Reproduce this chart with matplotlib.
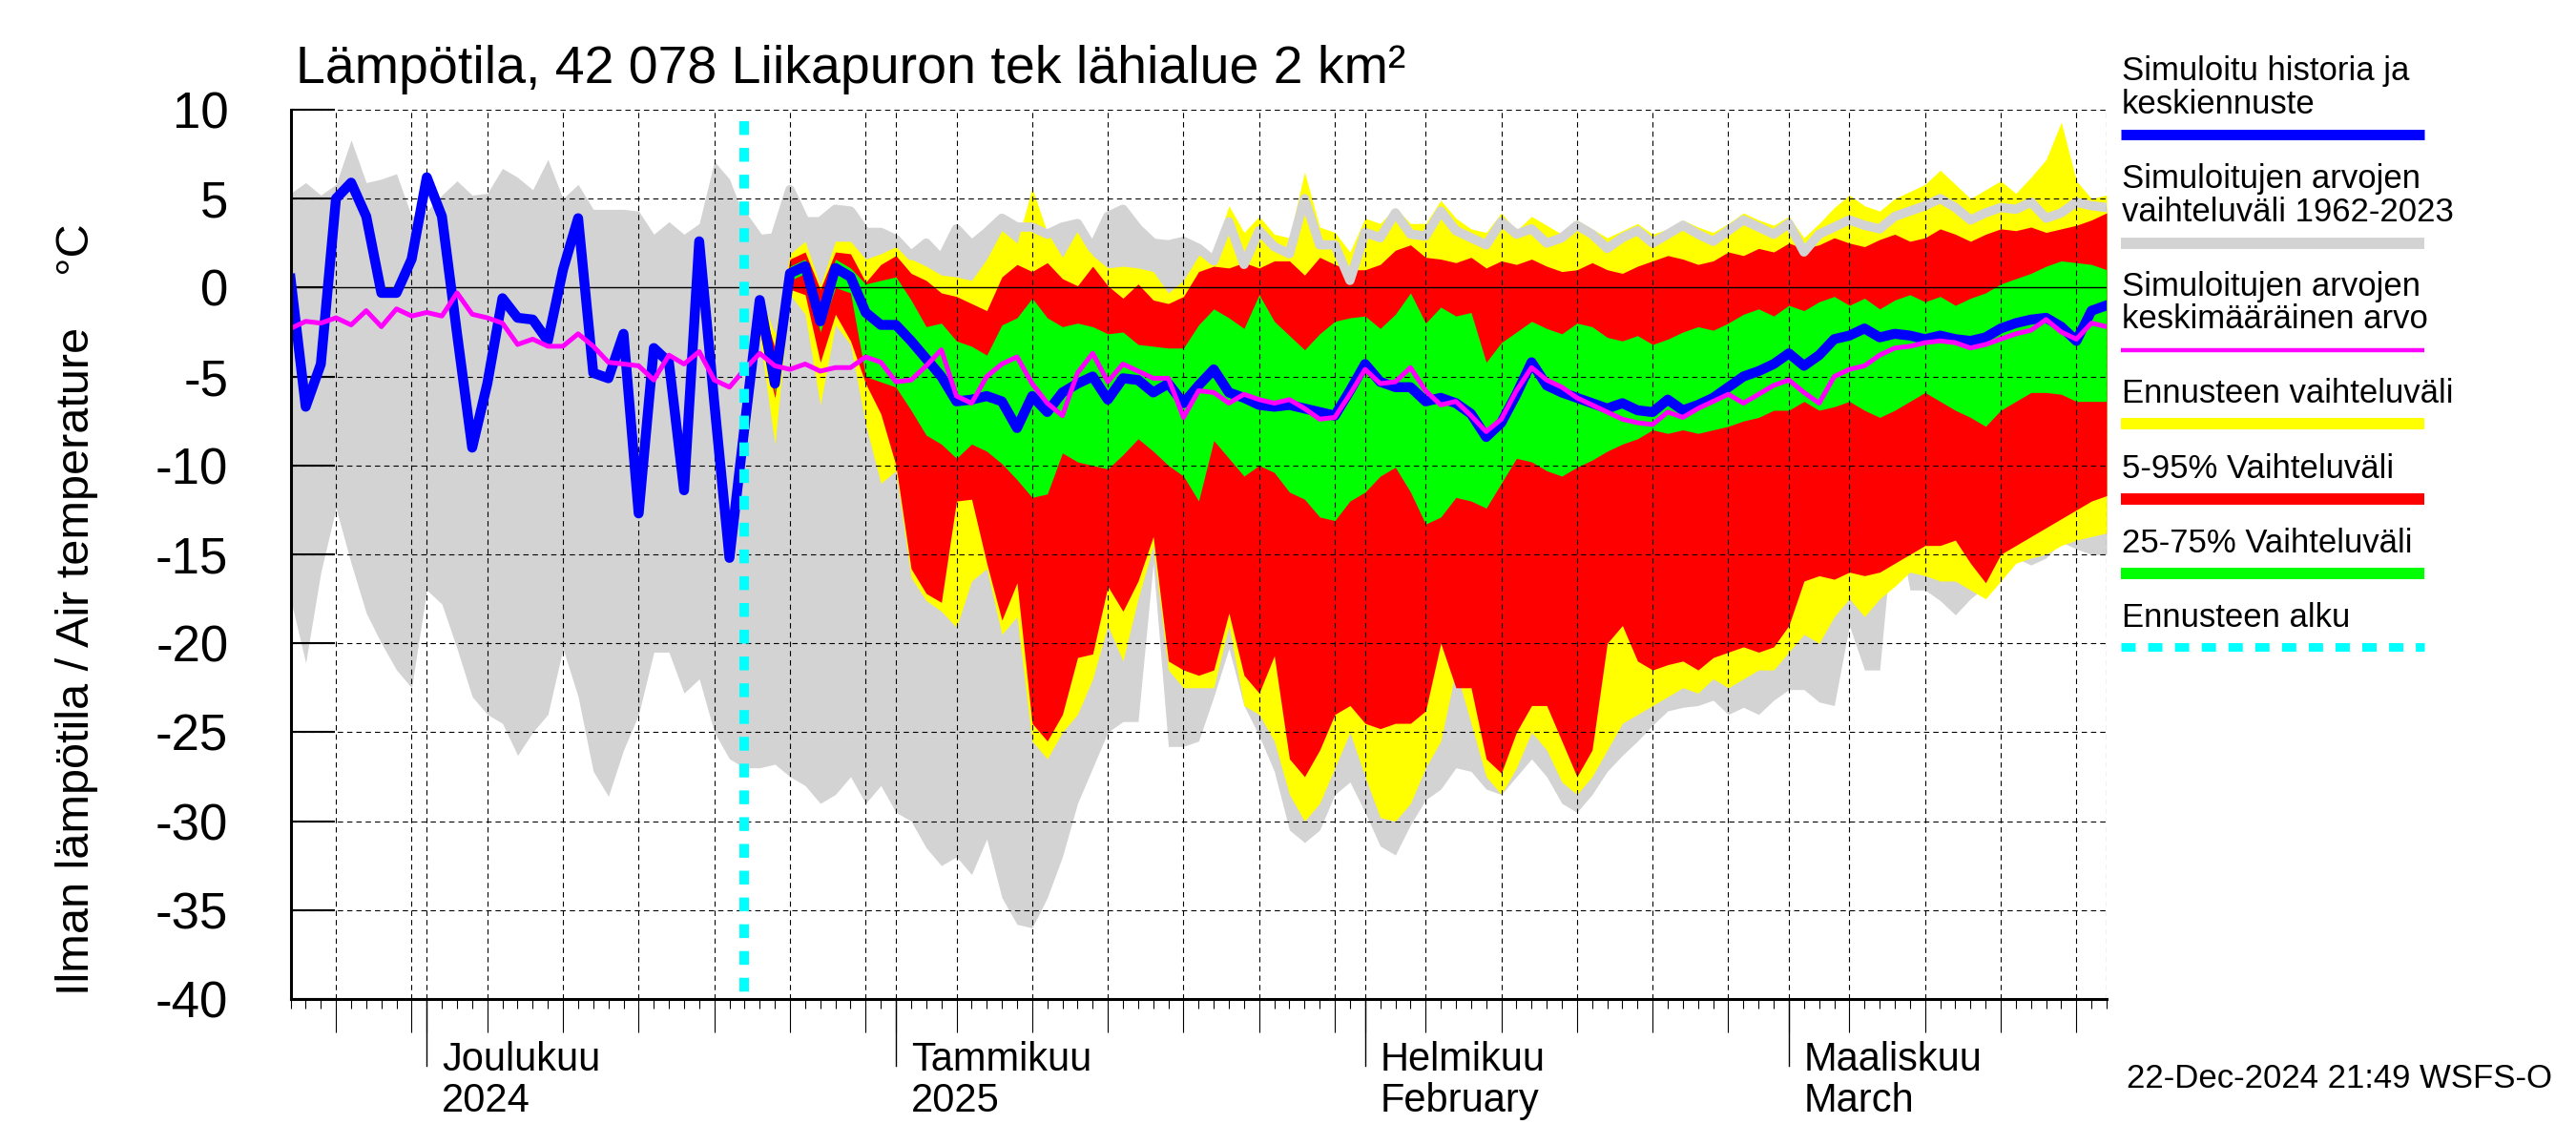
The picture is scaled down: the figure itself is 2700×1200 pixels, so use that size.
import matplotlib
matplotlib.use("Agg")
import matplotlib.pyplot as plt
import matplotlib.dates as mdates
import matplotlib.transforms as mtransforms
from matplotlib.ticker import FixedLocator
from matplotlib.lines import Line2D
import numpy as np
import pandas as pd

plt.rcParams["font.family"] = ["Liberation Sans", "DejaVu Sans"]
plt.rcParams["axes.unicode_minus"] = False
plt.rcParams["lines.scale_dashes"] = False

# ---------------- data ----------------
start_date = "2024-11-22"      # first daily value (left edge)
forecast_start = "2024-12-22"  # cyan line
band_start = "2024-12-23"      # first day of forecast bands

# simulated history + mean forecast (blue), daily from 2024-11-22
sim_mean = [
    0.5, -6.7, -4.3, 5.0, 5.9, 4.0, -0.3, -0.3, 1.6, 6.2,
    4.0, -2.6, -9.0, -5.4, -0.6, -1.7, -1.8, -3.0, 1.0, 3.9,
    -4.8, -5.1, -2.6, -12.7, -3.4, -4.2, -11.4, 2.6, -6.5, -15.2,
    -7.8, -0.7, -5.4, 0.8, 1.2, -1.9, 1.1, 0.6, -1.4, -2.1,
    -2.1, -3.0, -4.0, -5.0, -6.4, -6.3, -6.1, -6.4, -7.9, -6.1,
    -7.0, -5.9, -5.4, -5.0, -6.3, -5.1, -5.2, -5.9, -5.4, -6.5,
    -5.5, -4.6, -5.9, -6.2, -6.6, -6.7, -6.6, -6.8, -7.0, -7.2,
    -5.8, -4.3, -5.3, -5.6, -5.6, -6.4, -6.2, -6.5, -7.1, -8.4,
    -7.6, -6.0, -4.2, -5.5, -5.9, -6.2, -6.5, -6.8, -6.5, -6.9,
    -7.0, -6.3, -6.9, -6.6, -6.2, -5.6, -5.0, -4.7, -4.3, -3.7,
    -4.4, -3.8, -2.9, -2.7, -2.3, -2.8, -2.6, -2.7, -2.9, -2.7,
    -2.9, -3.0, -2.8, -2.3, -2.0, -1.8, -1.7, -2.2, -3.0, -1.3,
    -1.0,
]

# mean of simulated values 1962-2023 (magenta)
hist_mean = [
    -2.3, -1.9, -2.0, -1.7, -2.1, -1.3, -2.2, -1.2, -1.6, -1.4,
    -1.6, -0.3, -1.5, -1.7, -2.0, -3.2, -2.9, -3.3, -3.3, -2.6,
    -3.3, -4.2, -4.3, -4.4, -5.2, -3.8, -4.3, -3.6, -5.2, -5.6,
    -4.6, -3.7, -4.4, -4.6, -4.3, -4.7, -4.5, -4.5, -3.9, -4.2,
    -5.3, -5.2, -4.4, -3.5, -6.1, -6.5, -5.0, -4.3, -3.9, -5.4,
    -6.5, -7.2, -4.8, -3.7, -5.3, -4.3, -4.7, -5.1, -5.1, -7.3,
    -5.8, -5.9, -6.5, -6.0, -6.3, -6.5, -6.3, -6.8, -7.4, -7.3,
    -6.0, -4.6, -5.4, -5.3, -4.5, -5.8, -6.6, -6.4, -7.2, -8.1,
    -7.4, -5.8, -4.5, -5.2, -5.6, -6.2, -6.6, -7.0, -7.4, -7.6,
    -7.7, -7.0, -7.3, -6.8, -6.4, -6.0, -6.5, -6.0, -5.5, -5.2,
    -5.9, -6.5, -5.0, -4.6, -4.4, -3.8, -3.4, -3.3, -3.1, -3.0,
    -3.1, -3.4, -3.2, -2.9, -2.6, -2.4, -1.8, -2.5, -2.9, -2.0,
    -2.2,
]

# range of simulated values 1962-2023 (gray)
hist_max = [
    5.3, 5.9, 5.2, 5.8, 8.3, 5.9, 6.1, 6.4, 4.0, 4.3,
    5.2, 6.0, 5.2, 5.3, 6.7, 6.2, 5.5, 7.2, 5.0, 5.8,
    4.4, 4.4, 4.4, 4.3, 3.0, 3.7, 3.0, 3.6, 7.1, 6.1,
    3.9, 2.7, 2.8, 5.5, 3.7, 3.7, 4.4, 4.3, 3.1, 3.1,
    2.7, 1.8, 2.5, 1.6, 3.3, 2.4, 3.1, 3.9, 3.4, 3.4,
    3.0, 3.4, 3.6, 2.2, 4.0, 4.4, 3.3, 2.5, 2.4, 2.6,
    2.2, 1.5, 3.7, 1.3, 3.2, 2.3, 1.9, 5.0, 2.4, 2.4,
    0.4, 3.1, 2.8, 4.2, 3.0, 2.9, 4.3, 3.2, 2.8, 2.4,
    3.7, 3.0, 3.3, 2.5, 2.8, 3.5, 3.0, 2.2, 2.8, 3.2,
    2.5, 3.0, 3.5, 3.0, 2.6, 3.2, 3.8, 3.4, 3.0, 3.6,
    2.0, 3.0, 3.4, 3.8, 3.5, 3.3, 4.0, 4.3, 4.6, 5.0,
    4.5, 3.8, 4.2, 4.5, 4.4, 4.8, 3.9, 4.2, 4.8, 4.6,
    4.5,
]
hist_min = [
    -17.5, -21.1, -16.0, -12.4, -15.5, -18.3, -20.0, -21.5, -22.5, -17.0,
    -17.8, -20.3, -23.0, -24.0, -24.5, -26.3, -25.0, -24.0, -20.3, -23.0,
    -27.2, -28.6, -26.0, -24.0, -20.5, -20.5, -22.8, -22.0, -25.0, -26.5,
    -27.0, -27.0, -26.8, -27.5, -28.0, -29.0, -28.5, -27.5, -29.0, -28.0,
    -29.5, -30.0, -31.5, -32.5, -32.0, -33.0, -31.0, -34.3, -35.8, -36.0,
    -34.3, -32.0, -29.0, -27.0, -25.0, -24.4, -24.4, -15.5, -25.8, -25.8,
    -25.5, -23.0, -20.3, -23.5, -25.2, -27.2, -30.5, -31.2, -30.5, -28.5,
    -27.8, -29.5, -31.4, -31.9, -30.2, -28.8, -28.2, -27.0, -27.2, -28.2,
    -28.5, -27.5, -26.5, -27.5, -29.0, -29.5, -28.5, -27.2, -26.3, -25.5,
    -24.6, -23.8, -23.6, -23.5, -23.2, -24.0, -23.6, -24.0, -23.2, -22.6,
    -22.6, -23.3, -23.5, -19.0, -21.5, -21.5, -12.4, -17.0, -17.0, -17.6,
    -18.4, -17.5, -16.8, -16.1, -15.2, -15.6, -15.2, -14.3, -14.7, -15.0,
    -15.0,
]

# forecast bands, daily from 2024-12-23
fc_max = [
    -0.4, -2.6, 1.9, 2.6, 0.1, 2.6, 2.6, 1.6, 1.9, 2.3,
    1.6, 1.2, 0.7, 0.6, 0.4, 1.6, 3.2, 2.5, 5.6, 3.1,
    1.7, 3.2, 1.8, 1.1, 1.2, 1.1, 0.9, -0.3, 0.4, 1.8,
    2.0, 4.6, 3.1, 4.0, 3.0, 2.8, 6.5, 3.4, 3.1, 2.0,
    3.9, 3.6, 4.5, 3.6, 3.6, 4.9, 3.9, 3.3, 3.1, 4.2,
    3.2, 4.0, 3.5, 3.0, 3.8, 3.3, 2.8, 3.2, 3.6, 3.0,
    3.3, 3.8, 3.4, 3.1, 3.6, 4.2, 3.8, 3.5, 4.0, 2.8,
    3.6, 4.5, 5.2, 4.6, 4.3, 5.0, 5.4, 5.8, 6.6, 5.8,
    5.0, 5.5, 6.0, 5.3, 6.2, 7.2, 9.3, 6.0, 5.0, 5.2,
]
fc_p95 = [
    -0.5, -3.4, 1.6, 2.0, -0.1, 2.0, 1.9, 0.3, 1.3, 1.8,
    0.8, 0.4, -0.3, -0.5, -0.9, -1.3, 0.6, 1.3, 0.9, 1.4,
    0.5, 0.1, 1.2, 0.1, -0.6, 0.2, -0.7, -0.9, -0.5, 0.9,
    1.2, 1.1, 1.4, 1.1, 1.5, 1.5, 0.7, 1.7, 1.3, 1.0,
    1.0, 1.3, 2.1, 2.4, 1.7, 1.6, 1.4, 1.7, 1.1, 1.5,
    1.3, 1.6, 1.2, 0.9, 1.0, 1.4, 1.0, 0.8, 1.2, 1.5,
    1.8, 1.6, 1.3, 1.5, 2.0, 1.8, 2.2, 2.0, 2.5, 2.2,
    2.4, 2.8, 2.5, 2.3, 2.7, 3.0, 2.6, 2.8, 3.3, 3.0,
    2.6, 3.0, 3.3, 3.2, 3.4, 3.1, 3.3, 3.5, 3.8, 4.2,
]
fc_p75 = [
    -0.6, -4.8, 1.2, 1.6, -1.2, 1.6, 1.1, 0.2, 0.4, 0.6,
    -0.7, -2.2, -2.0, -3.0, -3.3, -3.8, -2.1, -1.7, -0.6, -1.7,
    -2.2, -2.0, -2.2, -2.6, -2.5, -3.2, -3.3, -3.4, -3.4, -2.1,
    -1.2, -1.7, -2.3, -0.4, -1.9, -2.7, -3.5, -2.6, -1.9, -1.7,
    -1.6, -2.3, -1.5, -0.3, -2.0, -1.1, -1.6, -1.4, -4.2, -3.1,
    -2.5, -1.9, -2.3, -2.6, -2.0, -2.2, -2.8, -3.0, -2.7, -3.2,
    -2.9, -2.5, -2.2, -2.4, -2.0, -1.5, -1.2, -1.6, -1.0, -1.3,
    -0.8, -0.5, -1.0, -0.6, -1.2, -0.7, -0.4, -0.8, -0.5, -1.0,
    -0.6, -0.3, 0.2, 0.5, 0.8, 1.2, 1.5, 1.4, 1.3, 1.0,
]
fc_p25 = [
    -0.8, -5.9, 0.4, 0.8, -2.5, 0.0, -0.3, -5.0, -5.3, -5.6,
    -6.9, -8.3, -8.8, -9.6, -8.8, -9.2, -9.9, -10.8, -11.8, -11.6,
    -9.3, -9.8, -10.0, -10.2, -9.4, -8.5, -9.2, -10.0, -10.6, -12.0,
    -8.6, -9.6, -10.6, -10.0, -10.4, -11.5, -11.9, -12.9, -13.1, -12.0,
    -11.5, -10.6, -10.1, -11.5, -13.3, -12.9, -11.8, -12.0, -12.4, -11.0,
    -9.6, -9.8, -10.3, -10.6, -10.1, -9.7, -9.2, -8.8, -8.5, -8.0,
    -8.2, -8.0, -8.2, -8.0, -7.8, -7.5, -7.3, -6.9, -6.9, -6.4,
    -6.9, -6.7, -6.4, -6.9, -7.3, -6.9, -6.4, -5.9, -6.4, -6.9,
    -7.3, -7.8, -6.9, -6.4, -5.9, -5.9, -6.0, -6.4, -6.4, -6.4,
]
fc_p05 = [
    -2.5, -6.2, -0.1, -0.4, -4.2, -1.5, -3.0, -5.4, -7.1, -10.0,
    -15.8, -17.2, -17.7, -12.0, -11.9, -15.5, -18.7, -16.6, -24.5, -25.5,
    -24.0, -20.8, -20.6, -16.8, -18.2, -16.5, -14.0, -21.0, -21.5, -21.8,
    -21.5, -18.3, -21.8, -22.8, -20.7, -26.5, -27.5, -26.0, -24.0, -23.5,
    -24.5, -24.8, -24.5, -24.5, -23.8, -20.0, -22.5, -22.5, -26.5, -27.3,
    -25.0, -23.5, -23.5, -25.5, -27.5, -26.0, -20.0, -19.0, -21.0, -21.5,
    -21.2, -21.0, -21.5, -20.8, -20.5, -20.2, -20.5, -20.2, -19.0, -16.5,
    -16.2, -16.4, -16.0, -16.2, -16.0, -15.5, -15.0, -14.5, -14.5, -14.2,
    -15.5, -16.6, -15.0, -14.5, -14.0, -13.5, -13.0, -12.5, -12.0, -11.7,
]
fc_min = [
    -2.8, -8.8, -0.4, -1.5, -6.6, -2.1, -3.2, -7.7, -11.0, -10.3,
    -16.3, -17.6, -18.2, -19.1, -16.5, -15.8, -19.5, -18.5, -25.5, -26.5,
    -25.0, -24.0, -22.0, -19.0, -21.0, -17.5, -14.5, -21.5, -22.5, -22.5,
    -22.5, -19.0, -23.5, -24.0, -25.5, -28.5, -30.0, -29.0, -27.0, -25.0,
    -27.5, -29.8, -30.0, -29.0, -27.0, -25.5, -21.5, -24.5, -27.5, -28.5,
    -27.0, -25.0, -26.0, -27.8, -28.5, -27.5, -26.0, -24.5, -24.0, -23.5,
    -23.0, -22.5, -22.8, -22.0, -22.5, -22.0, -21.5, -21.5, -20.5, -19.5,
    -20.0, -18.5, -17.5, -18.5, -17.5, -16.8, -16.0, -16.2, -16.5, -16.5,
    -17.0, -17.5, -16.5, -15.5, -15.2, -15.0, -14.5, -14.2, -14.0, -13.8,
]

y_ticks = [-40, -35, -30, -25, -20, -15, -10, -5, 0, 5, 10]
y_tick_labels = ["-40", "-35", "-30", "-25", "-20", "-15", "-10", "-5", "0", "5", "10"]
month_starts = ["2024-12-01", "2025-01-01", "2025-02-01", "2025-03-01"]
month_line1 = ["Joulukuu", "Tammikuu", "Helmikuu", "Maaliskuu"]
month_line2 = ["2024", "2025", "February", "March"]

title = "Lämpötila, 42 078 Liikapuron tek lähialue 2 km²"
ylabel = "Ilman lämpötila / Air temperature    °C"
footer = "22-Dec-2024 21:49 WSFS-O"
legend_texts = [
    ["Simuloitu historia ja", "keskiennuste"],
    ["Simuloitujen arvojen", "vaihteluväli 1962-2023"],
    ["Simuloitujen arvojen", "keskimääräinen arvo"],
    ["Ennusteen vaihteluväli"],
    ["5-95% Vaihteluväli"],
    ["25-75% Vaihteluväli"],
    ["Ennusteen alku"],
]

# ---------------- styling ----------------
BLUE = "#0000ff"
MAGENTA = "#ff00ff"
GRAY = "#d3d3d3"
YELLOW = "#ffff00"
RED = "#ff0000"
GREEN = "#00ff00"
CYAN = "#00ffff"

DPI = 100
fig = plt.figure(figsize=(27, 12), dpi=DPI)
ax_left, ax_bottom, ax_w, ax_h = 0.1128, 0.1275, 0.7050, 0.7767
ax = fig.add_axes([ax_left, ax_bottom, ax_w, ax_h])
ax_h_px = ax_h * 12 * DPI

dates = pd.date_range(start_date, periods=len(sim_mean), freq="D")
fdates = pd.date_range(band_start, periods=len(fc_max), freq="D")
fstart = pd.Timestamp(forecast_start)

ax.fill_between(dates, hist_min, hist_max, color=GRAY, lw=0, zorder=1)
ax.fill_between(fdates, fc_min, fc_max, color=YELLOW, lw=0, zorder=2)
ax.fill_between(fdates, fc_p05, fc_p95, color=RED, lw=0, zorder=2.1)
ax.fill_between(fdates, fc_p25, fc_p75, color=GREEN, lw=0, zorder=2.2)
mask = dates >= fstart
ax.plot(dates[mask], np.asarray(hist_max)[mask], color=GRAY, lw=7, zorder=3,
        solid_joinstyle="round")

# grid
grid_kw = dict(color="black", lw=0.8, ls=(0, (4, 3)), zorder=4)
xmin, xmax = dates[0], dates[-1]
all_days = pd.date_range(xmin, xmax, freq="D")
grid_days = [d for d in all_days if d.day in (1, 5, 10, 15, 20, 25, 30)]
for d in grid_days:
    ax.axvline(d, **grid_kw)
ax.axvline(xmax, **grid_kw)
for v in y_ticks:
    if v == 0:
        ax.axhline(0, color="black", lw=1.0, zorder=4)
    elif v > -40:
        ax.axhline(v, **grid_kw)

# lines
ax.plot(dates, sim_mean, color=BLUE, lw=7.5, zorder=6, solid_joinstyle="round")
ax.plot(dates, hist_mean, color=MAGENTA, lw=3.6, zorder=7, solid_joinstyle="round")
ax.plot([fstart, fstart], [9.35, -40], color=CYAN, lw=7.2, ls=(0, (10.4, 9.8)),
        dash_capstyle="butt", zorder=8)

ax.set_xlim(xmin, xmax)
ax.set_ylim(-40, 10)
for s in ("top", "right"):
    ax.spines[s].set_visible(False)
for s in ("left", "bottom"):
    ax.spines[s].set_linewidth(2.2)
    ax.spines[s].set_zorder(9)

ax.set_yticks(y_ticks)
ax.set_yticklabels(y_tick_labels)
ax.tick_params(axis="y", direction="in", length=33, width=1.5, pad=47, labelsize=38)

ax.xaxis.set_major_locator(FixedLocator(mdates.date2num(grid_days)))
ax.xaxis.set_minor_locator(mdates.DayLocator())
ax.tick_params(axis="x", which="major", direction="out", length=25, width=0.8,
               labelbottom=False)
ax.tick_params(axis="x", which="minor", direction="out", length=7, width=0.8)

btrans = mtransforms.blended_transform_factory(ax.transData, ax.transAxes)
ltrans = mtransforms.blended_transform_factory(ax.transData, fig.transFigure) + \
    mtransforms.ScaledTranslation(16 / DPI, 0, fig.dpi_scale_trans)
for m, l1, l2 in zip(month_starts, month_line1, month_line2):
    mt = pd.Timestamp(m)
    ax.plot([mt, mt], [0, -70 / ax_h_px], transform=btrans, color="black", lw=1.0,
            clip_on=False, zorder=9)
    ax.text(mt, 0.0653, l1, transform=ltrans, fontsize=30, ha="left", va="baseline")
    ax.text(mt, 0.0292, l2, transform=ltrans, fontsize=30, ha="left", va="baseline")

fig.text(0.1148, 0.9275, title, fontsize=40, ha="left", va="baseline")
fig.text(0.030, 0.468, ylabel, rotation=90, fontsize=35, ha="center", va="center")
fig.text(0.9907, 0.05, footer, fontsize=25, ha="right", va="baseline")

# legend
lx0, lx1 = 0.8233, 0.9411
tx = 0.8237
legend_baselines = [
    [0.930, 0.9008], [0.8358, 0.8067], [0.7417, 0.7133],
    [0.6483], [0.5829], [0.5178], [0.4528],
]
legend_bars = [
    (0.8821, BLUE, 7.9, "-"), (0.7875, GRAY, 8.6, "-"), (0.6942, MAGENTA, 3.2, "-"),
    (0.6296, YELLOW, 8.6, "-"), (0.5645, RED, 8.6, "-"), (0.4994, GREEN, 8.6, "-"),
    (0.4346, CYAN, 6.5, (0, (10.8, 9.4))),
]
for texts, bls, (by, col, lw, ls) in zip(legend_texts, legend_baselines, legend_bars):
    for t, b in zip(texts, bls):
        fig.text(tx, b, t, fontsize=25, ha="left", va="baseline")
    fig.add_artist(Line2D([lx0, lx1], [by, by], transform=fig.transFigure, color=col,
                          lw=lw, ls=ls, solid_capstyle="butt", dash_capstyle="butt"))

fig.savefig("out.png", dpi=DPI)
